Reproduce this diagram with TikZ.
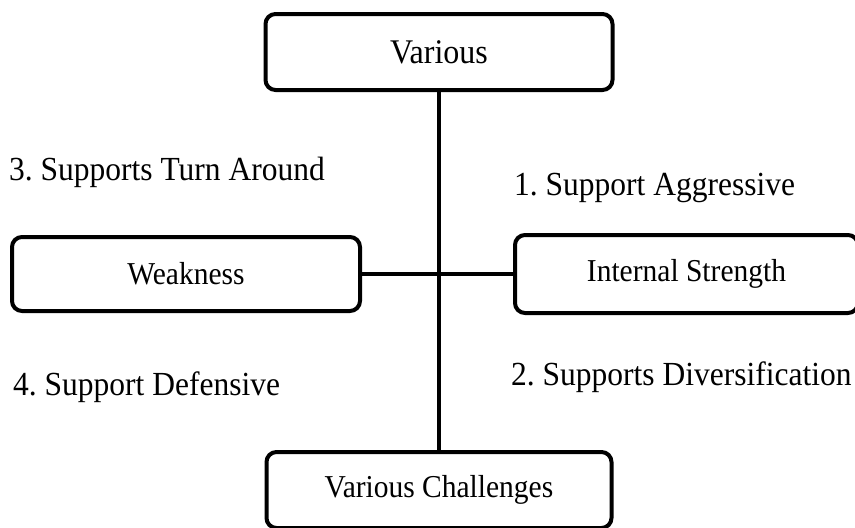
\documentclass[tikz,border=0pt]{standalone}
\usepackage{fontspec}
\usepackage{graphicx}
\setmainfont{Liberation Serif}
\newcommand{\vst}[1]{\raisebox{-3pt}{\scalebox{1}[1.08]{#1}}}
\newcommand{\lst}[1]{\scalebox{1}[1.07]{#1}}
\begin{document}
\frenchspacing
\begin{tikzpicture}[x=1pt,y=-1pt,
  box/.style={draw, line width=4pt, rounded corners=10pt, inner sep=0pt, font=\fontsize{29.5}{29.5}\selectfont},
  lab/.style={anchor=base west, inner sep=0pt, font=\fontsize{31.5}{31.5}\selectfont},
  conn/.style={line width=4pt}]
\useasboundingbox (0,0) rectangle (855,528);
\clip (0,0) rectangle (855,528);
\node[box, minimum width=347pt, minimum height=76pt, font=\fontsize{32}{32}\selectfont] (top) at (439,52) {\vst{Various}};
\node[box, minimum width=348pt, minimum height=74pt] (weak) at (186,274) {\vst{Weakness}};
\node[box, minimum width=343pt, minimum height=78pt] (int) at (686.5,274) {\vst{Internal Strength}};
\node[box, minimum width=345pt, minimum height=76pt] (bot) at (439,490) {\vst{Various Challenges}};
\draw[conn] (top.south) -- (bot.north);
\draw[conn] (weak.east) -- (int.west);
\node[lab] (l3) at (9,180) {\lst{3. Supports Turn Around}};
\node[lab] (l1) at (514,195) {\lst{1. Support Aggressive}};
\node[lab] (l2) at (511,385) {\lst{2. Supports Diversification}};
\node[lab] (l4) at (13,395) {\lst{4. Support Defensive}};
\end{tikzpicture}
\end{document}
